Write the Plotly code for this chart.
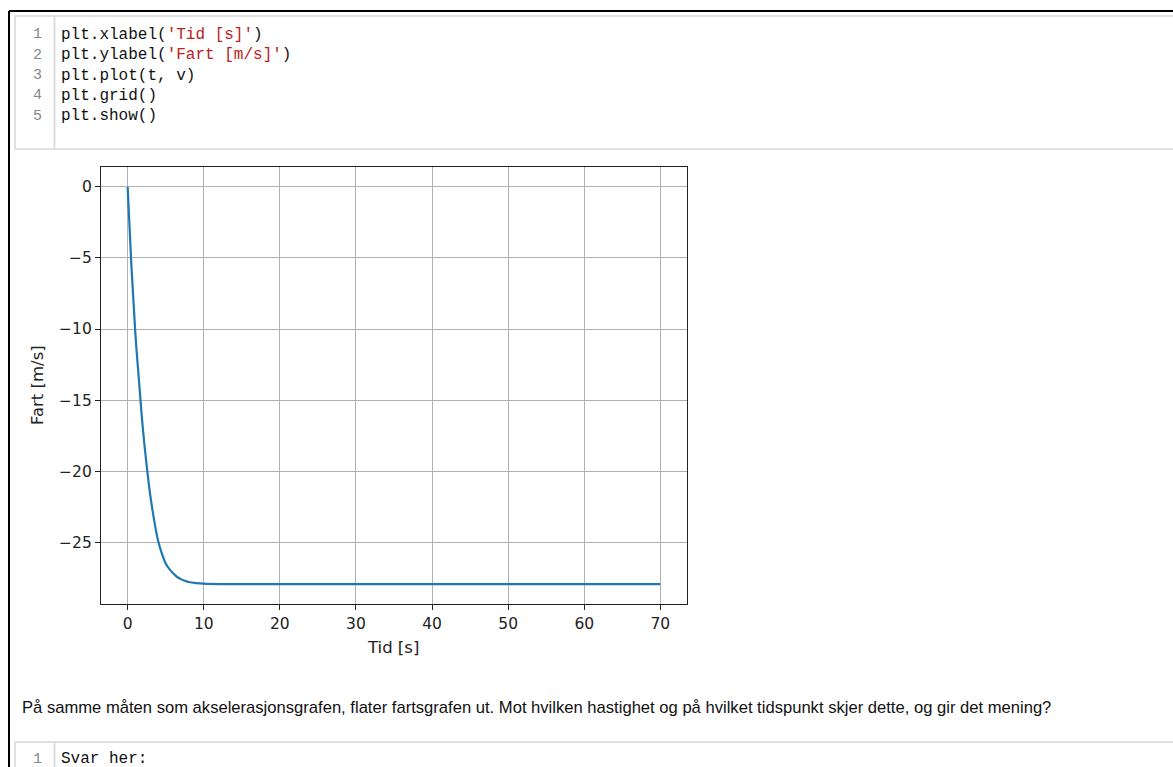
import plotly.graph_objects as go

# Data
t_vals = [0, 0.5, 1.0, 1.5, 2.0, 2.5, 3.0, 3.5, 4.0, 4.5, 5.0, 5.5, 6.0, 6.5, 7.0,
          7.5, 8.0, 9.0, 10, 12, 15, 20, 30, 40, 50, 60, 70]
v_vals = [0, -5.6, -10.2, -13.7, -17.0, -19.6, -21.8, -23.5, -24.9, -25.8, -26.5,
          -26.9, -27.2, -27.45, -27.6, -27.72, -27.8, -27.88, -27.92, -27.95, -27.95,
          -27.95, -27.95, -27.95, -27.95, -27.95, -27.95]
x_ticks = [0, 10, 20, 30, 40, 50, 60, 70]
y_ticks = [0, -5, -10, -15, -20, -25]

code_lines = [
    "plt.xlabel(<span style='color:#BA2121'>'Tid [s]'</span>)",
    "plt.ylabel(<span style='color:#BA2121'>'Fart [m/s]'</span>)",
    "plt.plot(t, v)",
    "plt.grid()",
    "plt.show()",
]
question = ("På samme måten som akselerasjonsgrafen, flater fartsgrafen ut. Mot hvilken "
            "hastighet og på hvilket tidspunkt skjer dette, og gir det mening?")
answer_line = "Svar her:"

W, H = 1173, 767

def px(x):
    return x / W

def py(y):
    return 1 - y / H

fig = go.Figure()
fig.add_trace(go.Scatter(x=t_vals, y=v_vals, mode="lines",
                         line=dict(color="#1f77b4", width=2.2, shape="spline", smoothing=1.0),
                         hoverinfo="skip", showlegend=False))

axis_common = dict(showline=True, linecolor="#222", linewidth=1.2, mirror=True,
                   ticks="outside", ticklen=5, tickwidth=1, tickcolor="#222",
                   showgrid=True, gridcolor="#b0b0b0", gridwidth=1, zeroline=False,
                   tickfont=dict(family="DejaVu Sans", size=15.5, color="#222"))

fig.update_layout(
    width=W, height=H, margin=dict(l=0, r=0, t=0, b=0),
    paper_bgcolor="white", plot_bgcolor="white",
    xaxis=dict(domain=[px(101), px(687)], range=[-3.5, 73.5],
               tickmode="array", tickvals=x_ticks, **axis_common),
    yaxis=dict(domain=[py(604), py(167)], range=[-29.35, 1.4],
               tickmode="array", tickvals=y_ticks, **axis_common),
)

shapes = []
# outer black frame
shapes.append(dict(type="line", xref="paper", yref="paper", x0=px(9), x1=px(1173 + 5),
                   y0=py(11), y1=py(11), line=dict(color="black", width=2)))
shapes.append(dict(type="line", xref="paper", yref="paper", x0=px(9), x1=px(9),
                   y0=py(11), y1=py(H + 5), line=dict(color="black", width=2)))
# top code cell
shapes.append(dict(type="rect", xref="paper", yref="paper", x0=px(15), x1=px(1180),
                   y0=py(16), y1=py(149), line=dict(color="#d8d8d8", width=1.5)))
shapes.append(dict(type="line", xref="paper", yref="paper", x0=px(54.5), x1=px(54.5),
                   y0=py(16), y1=py(149), line=dict(color="#dddddd", width=2)))
# bottom code cell
shapes.append(dict(type="rect", xref="paper", yref="paper", x0=px(15), x1=px(1180),
                   y0=py(742), y1=py(800), line=dict(color="#d8d8d8", width=1.5)))
shapes.append(dict(type="line", xref="paper", yref="paper", x0=px(54.5), x1=px(54.5),
                   y0=py(742), y1=py(800), line=dict(color="#dddddd", width=2)))
fig.update_layout(shapes=shapes)

ann = []
mono = dict(family="Liberation Mono, Courier New, monospace", size=16, color="#111")
for i, line in enumerate(code_lines):
    yc = 35 + i * 20.3
    ann.append(dict(xref="paper", yref="paper", x=px(44), y=py(yc), xanchor="right",
                    yanchor="middle", text=str(i + 1), showarrow=False,
                    font=dict(family=mono["family"], size=15, color="#888")))
    ann.append(dict(xref="paper", yref="paper", x=px(59), y=py(yc), xanchor="left",
                    yanchor="middle", text=line, showarrow=False, font=mono))
ann.append(dict(xref="paper", yref="paper", x=px(44), y=py(759), xanchor="right",
                yanchor="middle", text="1", showarrow=False,
                font=dict(family=mono["family"], size=15, color="#888")))
ann.append(dict(xref="paper", yref="paper", x=px(59), y=py(759), xanchor="left",
                yanchor="middle", text=answer_line, showarrow=False, font=mono))
ann.append(dict(xref="paper", yref="paper", x=px(20), y=py(707), xanchor="left",
                yanchor="middle", text=question, showarrow=False,
                font=dict(family="Liberation Sans, Arial", size=16.6, color="#111")))
# axis labels
ann.append(dict(xref="paper", yref="paper", x=px(393), y=py(647), xanchor="center",
                yanchor="middle", text="Tid [s]", showarrow=False,
                font=dict(family="DejaVu Sans", size=16.5, color="#222")))
ann.append(dict(xref="paper", yref="paper", x=px(37), y=py(385), xanchor="center",
                yanchor="middle", text="Fart [m/s]", showarrow=False, textangle=-90,
                font=dict(family="DejaVu Sans", size=16.5, color="#222")))
fig.update_layout(annotations=ann)

fig.write_html("out.html")
